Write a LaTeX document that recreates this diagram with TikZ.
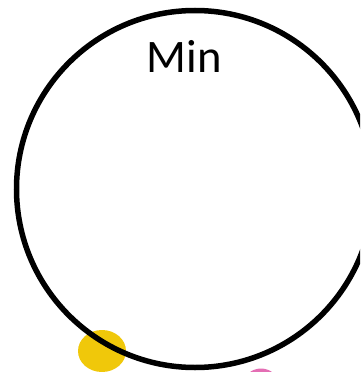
\documentclass[tikz,border=0pt]{standalone}
\usepackage{fontspec}
\setmainfont{Carlito}
\usepackage{tikz}
\usetikzlibrary{positioning}

\definecolor{dotyellow}{RGB}{240,200,10}
\definecolor{dotpink}{RGB}{228,110,180}

\begin{document}
\begin{tikzpicture}[x=1pt, y=-1pt]
    \tikzstyle{ring} = [draw=black, line width=5.5pt]
    \tikzstyle{label} = [font=\fontsize{46.6}{50}\selectfont, anchor=base, inner sep=0pt]

    \clip (0,0) rectangle (360,372);
    \fill[white] (0,0) rectangle (360,372);

    % dots peeking in at the bottom
    \fill[dotpink] (261,385.5) ellipse (18pt and 17pt);
    \fill[dotyellow] (102,351) ellipse (24pt and 21pt);

    % the set
    \node[ring, circle, minimum size=357pt, inner sep=0pt] (minset) at (195,189) {};
    \node[label] (minlabel) at (184,72) {Min};
\end{tikzpicture}
\end{document}
